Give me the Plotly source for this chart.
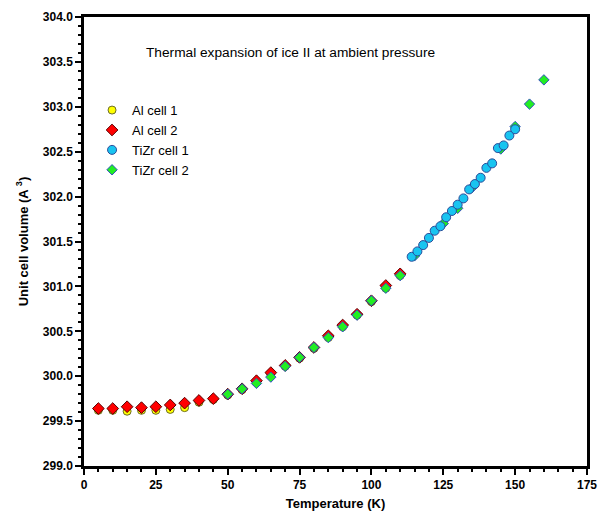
import plotly.graph_objects as go

# Al cell 1 (yellow circles)
t_al1 = [5, 10, 15, 20, 25, 30, 35, 40, 45, 50, 55, 60, 65, 70, 75, 80, 85, 90, 95, 100, 105, 110]
v_al1 = [299.62, 299.62, 299.61, 299.62, 299.62, 299.63, 299.65, 299.71, 299.74, 299.79, 299.85,
         299.93, 300.02, 300.11, 300.20, 300.31, 300.43, 300.55, 300.68, 300.83, 300.98, 301.12]

# Al cell 2 (red diamonds)
t_al2 = [5, 10, 15, 20, 25, 30, 35, 40, 45, 50, 55, 60, 65, 70, 75, 80, 85, 90, 95, 100, 105, 110]
v_al2 = [299.64, 299.64, 299.66, 299.65, 299.66, 299.68, 299.70, 299.73, 299.75, 299.80, 299.86,
         299.95, 300.04, 300.12, 300.21, 300.32, 300.45, 300.57, 300.69, 300.84, 301.01, 301.14]

# TiZr cell 1 (cyan circles)
t_tz1 = [114, 116, 118, 120, 122, 124, 126, 128, 130, 132, 134, 136, 138,
         140, 142, 144, 146, 148, 150]
v_tz1 = [301.33, 301.39, 301.46, 301.54, 301.62, 301.67,
         301.77, 301.84, 301.91, 301.98, 302.08, 302.14, 302.21, 302.32, 302.37, 302.54, 302.57,
         302.68, 302.75]

# TiZr cell 2 (green diamonds)
t_tz2 = [50, 55, 60, 65, 70, 75, 80, 85, 90, 95, 100, 105, 110, 115, 125, 130, 135, 145, 150, 155, 160]
v_tz2 = [299.80, 299.86, 299.92, 299.99, 300.11, 300.21, 300.32, 300.43, 300.55, 300.68, 300.84,
         300.98, 301.12, 301.34, 301.70, 301.87, 302.10, 302.53, 302.78, 303.03, 303.30]

fig = go.Figure()
fig.add_trace(go.Scatter(x=t_al1, y=v_al1, mode="markers", name="Al cell 1", legendrank=1,
                         marker=dict(symbol="circle", size=8, color="#FFFF00",
                                     line=dict(color="#6B6B2A", width=1))))
fig.add_trace(go.Scatter(x=t_al2, y=v_al2, mode="markers", name="Al cell 2", legendrank=2,
                         marker=dict(symbol="diamond", size=9, color="#FF0000",
                                     line=dict(color="#5A0000", width=1))))
fig.add_trace(go.Scatter(x=t_tz2, y=v_tz2, mode="markers", name="TiZr cell 2", legendrank=4,
                         marker=dict(symbol="diamond", size=8, color="#22EE22",
                                     line=dict(color="#3050C0", width=1))))
fig.add_trace(go.Scatter(x=t_tz1, y=v_tz1, mode="markers", name="TiZr cell 1", legendrank=3,
                         marker=dict(symbol="circle", size=9, color="#18C4F0",
                                     line=dict(color="#2A4C9A", width=1))))

axis_common = dict(
    showline=True, linecolor="black", linewidth=2.5, mirror=True,
    showgrid=False, zeroline=False, automargin=False,
    ticks="outside", ticklen=6, tickwidth=2, tickcolor="black",
    tickfont=dict(family="Arial", size=12, color="black", weight="bold"),
)

fig.update_xaxes(range=[0, 175], tickvals=[0, 25, 50, 75, 100, 125, 150, 175],
                 minor=dict(dtick=5, ticks="outside", ticklen=3, tickwidth=2, tickcolor="black"),
                 title=dict(text="Temperature (K)", standoff=8,
                            font=dict(family="Arial", size=13, color="black", weight="bold")),
                 **axis_common)
fig.update_yaxes(range=[299.0, 304.0], dtick=0.5, tickformat=".1f",
                 minor=dict(dtick=0.1, ticks="outside", ticklen=3, tickwidth=2, tickcolor="black"),
                 title=dict(text="Unit cell volume (A <sup>3</sup>)", standoff=12,
                            font=dict(family="Arial", size=13, color="black", weight="bold")),
                 **axis_common)

fig.add_annotation(text="Thermal expansion of ice II at ambient pressure",
                   xref="paper", yref="paper", x=0.41, y=0.92, yanchor="middle", showarrow=False,
                   font=dict(family="Arial", size=13.7, color="black"))

fig.update_layout(
    width=598, height=512,
    margin=dict(l=84, r=11, t=17, b=46),
    paper_bgcolor="white", plot_bgcolor="white",
    showlegend=True,
    legend=dict(x=0.016, y=0.826, xanchor="left", yanchor="top",
                bgcolor="rgba(0,0,0,0)", font=dict(family="Arial", size=13, color="black"),
                itemwidth=30, tracegroupgap=0),
)

fig.write_html("out.html", config={"displayModeBar": False},
               post_script="document.body.style.margin='0';document.body.style.padding='0';"
                           "document.body.style.overflow='hidden';")
